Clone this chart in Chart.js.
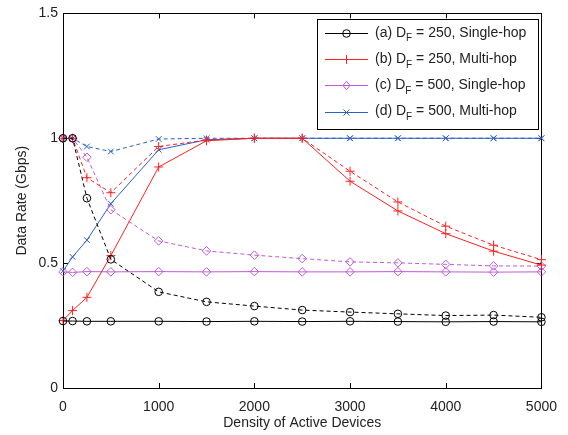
<!DOCTYPE html>
<html>
<head>
<meta charset="utf-8">
<script src="https://cdn.jsdelivr.net/npm/chart.js@4.4.0/dist/chart.umd.min.js"></script>
<style>
  html, body { margin: 0; padding: 0; background: #ffffff; }
  canvas { display: block; }
</style>
</head>
<body>
<canvas id="c" width="568" height="435"></canvas>
<script>
// ---- data ----
const densities = [0, 100, 250, 500, 1000, 1500, 2000, 2500, 3000, 3500, 4000, 4500, 5000];
const xTicks = [0, 1000, 2000, 3000, 4000, 5000];
const yTicks = [0, 0.5, 1, 1.5];

// (a) D_F = 250, Single-hop
const a_solid  = [0.268, 0.268, 0.267, 0.267, 0.267, 0.266, 0.267, 0.266, 0.267, 0.266, 0.265, 0.266, 0.265];
const a_dashed = [1.0, 1.0, 0.76, 0.515, 0.385, 0.345, 0.328, 0.312, 0.304, 0.297, 0.290, 0.292, 0.283];
// (b) D_F = 250, Multi-hop
const b_solid  = [0.27, 0.31, 0.363, 0.53, 0.885, 0.99, 1.0, 1.0, 0.828, 0.709, 0.618, 0.548, 0.492];
const b_dashed = [1.0, 1.0, 0.842, 0.782, 0.967, 0.993, 1.0, 1.0, 0.868, 0.745, 0.648, 0.572, 0.514];
// (c) D_F = 500, Single-hop
const c_solid  = [0.465, 0.463, 0.466, 0.465, 0.466, 0.465, 0.466, 0.465, 0.465, 0.466, 0.465, 0.464, 0.465];
const c_dashed = [1.0, 1.0, 0.924, 0.714, 0.589, 0.549, 0.532, 0.518, 0.505, 0.501, 0.495, 0.489, 0.488];
// (d) D_F = 500, Multi-hop
const d_solid  = [0.468, 0.525, 0.592, 0.738, 0.954, 0.994, 1.0, 1.0, 1.0, 1.0, 1.0, 1.0, 1.0];
const d_dashed = [1.0, 1.0, 0.967, 0.947, 0.997, 1.0, 1.0, 1.0, 1.0, 1.0, 1.0, 1.0, 1.0];

const legendLabels = [
  ["(a) D", "F", " = 250, Single-hop"],
  ["(b) D", "F", " = 250, Multi-hop"],
  ["(c) D", "F", " = 500, Single-hop"],
  ["(d) D", "F", " = 500, Multi-hop"]
];

// ---- styles ----
const FONT = "'Liberation Sans', Arial, sans-serif";
const colors = ["#000000", "#ff2020", "rgb(190,90,215)", "rgb(45,95,200)"];
const styles = ["circle", "cross", "rectRot", "crossRot"];
const radii = [3.8, 4.5, 4.3, 4];

function pts(arr) { return arr.map((v, i) => ({ x: densities[i], y: v })); }

function ds(arr, k, dashed) {
  return {
    data: pts(arr),
    borderColor: colors[k],
    backgroundColor: 'rgba(0,0,0,0)',
    borderWidth: 1,
    borderDash: dashed ? [4, 3] : [],
    pointStyle: styles[k],
    pointRadius: radii[k],
    pointHoverRadius: radii[k],
    pointBorderColor: colors[k],
    pointBackgroundColor: 'rgba(0,0,0,0)',
    pointBorderWidth: 1,
    tension: 0,
    clip: false
  };
}

const seriesSolid = [a_solid, b_solid, c_solid, d_solid];
const seriesDashed = [a_dashed, b_dashed, c_dashed, d_dashed];
const datasets = [];
for (let k = 0; k < 4; k++) {
  datasets.push(ds(seriesDashed[k], k, true));
  datasets.push(ds(seriesSolid[k], k, false));
}

function drawMarker(ctx, style, x, y, r, color) {
  ctx.save();
  ctx.strokeStyle = color;
  ctx.lineWidth = 1;
  ctx.setLineDash([]);
  ctx.beginPath();
  if (style === 'circle') {
    ctx.arc(x, y, r, 0, Math.PI * 2);
  } else if (style === 'cross') {
    ctx.moveTo(x - r, y); ctx.lineTo(x + r, y);
    ctx.moveTo(x, y - r); ctx.lineTo(x, y + r);
  } else if (style === 'rectRot') {
    ctx.moveTo(x, y - r); ctx.lineTo(x + r * 0.8, y); ctx.lineTo(x, y + r); ctx.lineTo(x - r * 0.8, y); ctx.closePath();
  } else if (style === 'crossRot') {
    const d = r * 0.75;
    ctx.moveTo(x - d, y - d); ctx.lineTo(x + d, y + d);
    ctx.moveTo(x + d, y - d); ctx.lineTo(x - d, y + d);
  }
  ctx.stroke();
  ctx.restore();
}

const framePlugin = {
  id: 'frame',
  beforeDatasetsDraw(chart) {
    const { ctx, chartArea: a, scales } = chart;
    ctx.save();
    ctx.strokeStyle = '#000';
    ctx.lineWidth = 1;
    ctx.strokeRect(Math.round(a.left) + 0.5, Math.round(a.top) + 0.5,
                   Math.round(a.right - a.left), Math.round(a.bottom - a.top));
    const tl = 5;
    ctx.beginPath();
    xTicks.forEach(v => {
      const x = Math.round(scales.x.getPixelForValue(v)) + 0.5;
      ctx.moveTo(x, a.bottom); ctx.lineTo(x, a.bottom - tl);
      ctx.moveTo(x, a.top); ctx.lineTo(x, a.top + tl);
    });
    yTicks.forEach(v => {
      const y = Math.round(scales.y.getPixelForValue(v)) + 0.5;
      ctx.moveTo(a.left, y); ctx.lineTo(a.left + tl, y);
      ctx.moveTo(a.right, y); ctx.lineTo(a.right - tl, y);
    });
    ctx.stroke();
    ctx.restore();
  },
  afterDraw(chart) {
    const ctx = chart.ctx;
    const bx = 317, by = 19, bw = 221, bh = 110;
    ctx.save();
    ctx.fillStyle = '#fff';
    ctx.fillRect(bx, by, bw, bh);
    ctx.strokeStyle = '#000';
    ctx.lineWidth = 1;
    ctx.strokeRect(bx + 0.5, by + 0.5, bw, bh);
    for (let i = 0; i < 4; i++) {
      const y = 32.7 + i * 26.3;
      ctx.strokeStyle = colors[i];
      ctx.beginPath();
      ctx.moveTo(325, Math.round(y) + 0.5);
      ctx.lineTo(368, Math.round(y) + 0.5);
      ctx.stroke();
      drawMarker(ctx, styles[i], 346.5, Math.round(y) + 0.5, radii[i], colors[i]);
      const [p1, sub, p2] = legendLabels[i];
      ctx.fillStyle = '#222';
      ctx.textBaseline = 'middle';
      ctx.textAlign = 'left';
      ctx.font = '14px ' + FONT;
      let x = 375;
      ctx.fillText(p1, x, y);
      x += ctx.measureText(p1).width;
      ctx.font = '10px ' + FONT;
      ctx.fillText(sub, x, y + 6);
      x += ctx.measureText(sub).width;
      ctx.font = '14px ' + FONT;
      ctx.fillText(p2, x, y);
    }
    ctx.restore();
  }
};

new Chart(document.getElementById('c'), {
  type: 'line',
  data: { datasets },
  options: {
    responsive: false,
    animation: false,
    events: [],
    layout: { padding: { left: 0, right: 25, top: 13, bottom: 0 } },
    plugins: { legend: { display: false }, tooltip: { enabled: false } },
    scales: {
      x: {
        type: 'linear',
        min: 0, max: 5000,
        afterBuildTicks(scale) { scale.ticks = xTicks.map(v => ({ value: v })); },
        afterFit(scale) { scale.height = 47; },
        grid: { display: false, drawTicks: false },
        border: { display: false },
        ticks: {
          padding: 11,
          color: '#222',
          font: { family: FONT, size: 14 },
          callback: v => String(v)
        },
        title: {
          display: true, text: 'Density of Active Devices', color: '#222',
          font: { family: FONT, size: 14 },
          padding: { top: 0, bottom: 3 }
        }
      },
      y: {
        min: 0, max: 1.5,
        afterBuildTicks(scale) { scale.ticks = yTicks.map(v => ({ value: v })); },
        afterFit(scale) { scale.width = 63; },
        grid: { display: false, drawTicks: false },
        border: { display: false },
        ticks: {
          padding: 5,
          color: '#222',
          font: { family: FONT, size: 14 },
          callback: v => String(v)
        },
        title: {
          display: true, text: 'Data Rate (Gbps)', color: '#222',
          font: { family: FONT, size: 14 },
          padding: { top: 14, bottom: 0 }
        }
      }
    }
  },
  plugins: [framePlugin]
});
</script>
</body>
</html>
